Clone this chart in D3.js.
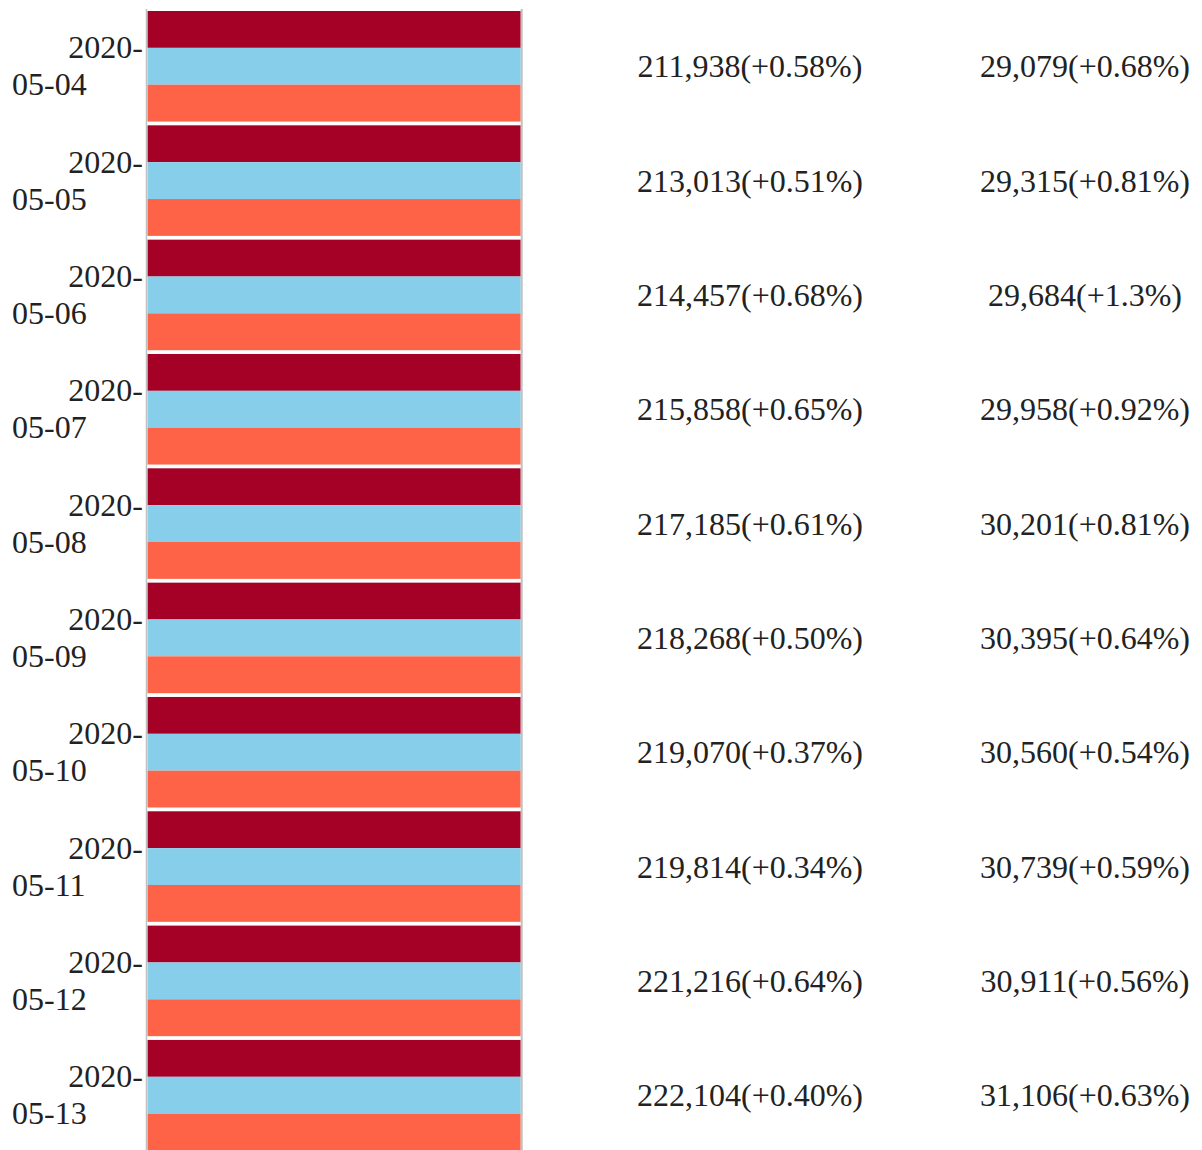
<!DOCTYPE html>
<html>
<head>
<meta charset="utf-8">
<script src="https://cdn.jsdelivr.net/npm/d3@7"></script>
<style>
	body { margin: 0; background: #fff; }
	svg { display: block; font-family: "Liberation Serif", "Times New Roman", serif; }
</style>
</head>
<body>
<svg width="1202" height="1150"></svg>
<script>
	var dates = ["2020-05-04", "2020-05-05", "2020-05-06", "2020-05-07", "2020-05-08",
		"2020-05-09", "2020-05-10", "2020-05-11", "2020-05-12", "2020-05-13"];

	// each band fills the whole row (share in %)
	var seriesNames = ["deaths", "recovered", "active"];
	var deathsShare = [100, 100, 100, 100, 100, 100, 100, 100, 100, 100];
	var recoveredShare = [100, 100, 100, 100, 100, 100, 100, 100, 100, 100];
	var activeShare = [100, 100, 100, 100, 100, 100, 100, 100, 100, 100];
	var colors = ["#a50026", "#87ceeb", "#ff6347"];

	var cases = [211938, 213013, 214457, 215858, 217185, 218268, 219070, 219814, 221216, 222104];
	var casesGrowth = ["+0.58%", "+0.51%", "+0.68%", "+0.65%", "+0.61%", "+0.50%", "+0.37%", "+0.34%", "+0.64%", "+0.40%"];
	var deaths = [29079, 29315, 29684, 29958, 30201, 30395, 30560, 30739, 30911, 31106];
	var deathsGrowth = ["+0.68%", "+0.81%", "+1.3%", "+0.92%", "+0.81%", "+0.64%", "+0.54%", "+0.59%", "+0.56%", "+0.63%"];

	var shares = [deathsShare, recoveredShare, activeShare];

	var svg = d3.select("svg");
	var fmt = d3.format(",");

	var x = d3.scaleLinear().domain([0, 100]).range([147.5, 520.7]);
	var y = d3.scaleBand().domain(dates).range([11, 1150.5]).paddingInner(0.033).paddingOuter(0);
	var ySub = d3.scaleBand().domain(seriesNames).range([0, y.bandwidth()]);

	var rows = svg.append("g")
		.selectAll("g")
		.data(dates)
		.enter().append("g")
		.attr("transform", function(d) { return "translate(0," + y(d) + ")"; });

	rows.selectAll("rect")
		.data(function(d, i) {
			return seriesNames.map(function(s, k) { return { series: s, value: shares[k][i], k: k }; });
		})
		.enter().append("rect")
		.attr("x", x(0))
		.attr("y", function(d) { return ySub(d.series); })
		.attr("width", function(d) { return x(d.value) - x(0); })
		.attr("height", ySub.bandwidth())
		.style("fill", function(d) { return colors[d.k]; });

	// side lines
	svg.append("line")
		.attr("x1", 146.5).attr("x2", 146.5).attr("y1", 9).attr("y2", 1150)
		.style("stroke", "#c0c0c0").style("stroke-width", 1.5);
	svg.append("line")
		.attr("x1", 521.7).attr("x2", 521.7).attr("y1", 9).attr("y2", 1150)
		.style("stroke", "#c0c0c0").style("stroke-width", 2);

	// date labels, wrapped at the hyphen
	var labels = svg.append("g")
		.selectAll("text")
		.data(dates)
		.enter().append("text")
		.style("font-size", "32px")
		.style("fill", "#222");
	labels.append("tspan")
		.attr("x", 143)
		.attr("y", function(d) { return y(d) + y.bandwidth() / 2 - 8; })
		.attr("text-anchor", "end")
		.text(function(d) { return d.slice(0, 5); });
	labels.append("tspan")
		.attr("x", 12)
		.attr("y", function(d) { return y(d) + y.bandwidth() / 2 + 29; })
		.attr("text-anchor", "start")
		.text(function(d) { return d.slice(5); });

	// value columns
	var cols = [
		{ cx: 750, vals: cases, growth: casesGrowth },
		{ cx: 1085, vals: deaths, growth: deathsGrowth }
	];
	cols.forEach(function(c) {
		svg.append("g")
			.selectAll("text")
			.data(dates)
			.enter().append("text")
			.attr("x", c.cx)
			.attr("y", function(d) { return y(d) + y.bandwidth() / 2 + 11; })
			.attr("text-anchor", "middle")
			.style("font-size", "32px")
			.style("fill", "#222")
			.text(function(d, i) { return fmt(c.vals[i]) + "(" + c.growth[i] + ")"; });
	});
</script>
</body>
</html>
